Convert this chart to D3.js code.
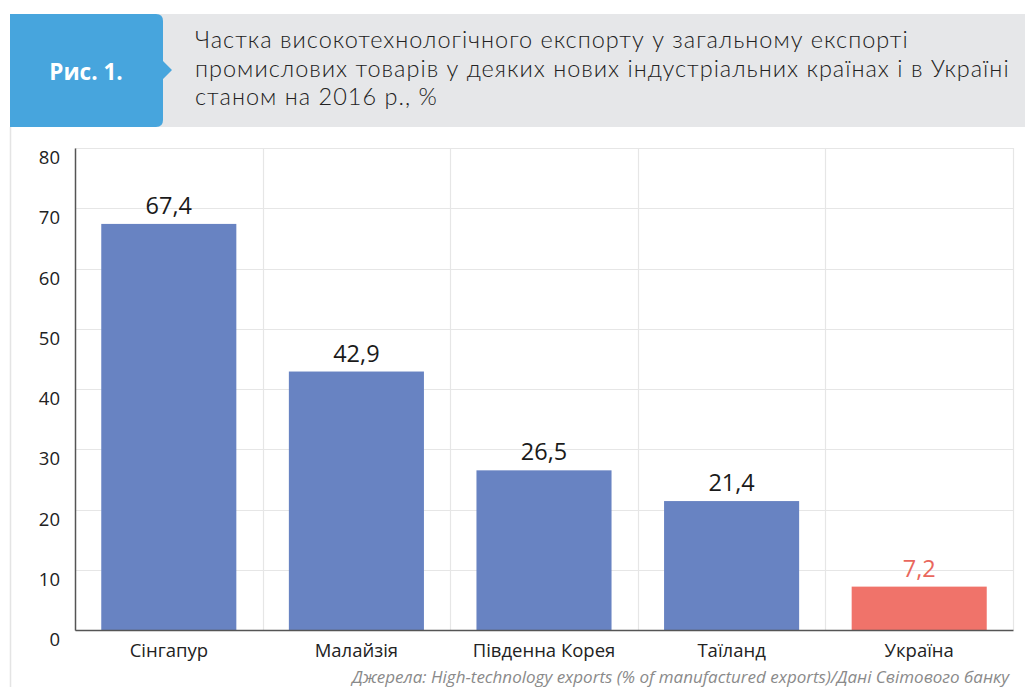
<!DOCTYPE html>
<html>
<head>
<meta charset="utf-8">
<script src="https://cdn.jsdelivr.net/npm/d3@7"></script>
<style>
  html, body { margin: 0; padding: 0; background: #fff; }
  svg { display: block; font-family: "Open Sans", "Noto Sans", sans-serif; }
</style>
</head>
<body>
<svg id="chart" width="1025" height="687"></svg>
<script>
// Chart data
const categories = ["Сінгапур", "Малайзія", "Південна Корея", "Таїланд", "Україна"];
const values = [67.4, 42.9, 26.5, 21.4, 7.2];
const valueLabels = ["67,4", "42,9", "26,5", "21,4", "7,2"];
const highlight = ["Україна"];
const yTicks = [0, 10, 20, 30, 40, 50, 60, 70, 80];
const figLabel = "Рис. 1.";
const titleLines = [
  "Частка високотехнологічного експорту у загальному експорті",
  "промислових товарів у деяких нових індустріальних країнах і в Україні",
  "станом на 2016 р., %"
];
const sourceText = "Джерела: High-technology exports (% of manufactured exports)/Дані Світового банку";

const svg = d3.select("#chart");
const W = 1025, H = 687;

// Header band
svg.append("rect").attr("x", 10).attr("y", 14).attr("width", W - 10).attr("height", 113)
  .attr("fill", "#e6e7e9");

// Blue figure tag with rounded right corners and a pointer
const tag = d3.path();
const tx0 = 10, tx1 = 163, ty0 = 14, ty1 = 127, r = 7, tipX = 172, tipY = 70;
tag.moveTo(tx0, ty0);
tag.lineTo(tx1 - r, ty0);
tag.quadraticCurveTo(tx1, ty0, tx1, ty0 + r);
tag.lineTo(tx1, tipY - 9);
tag.lineTo(tipX, tipY);
tag.lineTo(tx1, tipY + 9);
tag.lineTo(tx1, ty1 - r);
tag.quadraticCurveTo(tx1, ty1, tx1 - r, ty1);
tag.lineTo(tx0, ty1);
tag.closePath();
svg.append("path").attr("d", tag.toString()).attr("fill", "#47a5dd");

svg.append("text").attr("x", 86).attr("y", 80).attr("text-anchor", "middle")
  .attr("fill", "#fff").attr("font-weight", 700).attr("font-size", 22.5)
  .text(figLabel);

svg.append("g").selectAll("text").data(titleLines).join("text")
  .attr("x", 195).attr("y", (d, i) => 48 + i * 28.5)
  .attr("fill", "#222").attr("font-size", 23.5).attr("font-weight", 300)
  .attr("font-family", "Lato, \"Open Sans\", sans-serif")
  .attr("letter-spacing", 1.0)
  .text(d => d);

// Frame line on the left of the chart panel
svg.append("line").attr("x1", 10.5).attr("x2", 10.5).attr("y1", 127).attr("y2", H)
  .attr("stroke", "#e4e4e4").attr("stroke-width", 1.5);

// Plot area
const m = { left: 75, right: 1013, top: 148, bottom: 630 };
const x = d3.scaleBand().domain(categories).range([m.left, m.right]).paddingInner(0.28).paddingOuter(0.14);
const y = d3.scaleLinear().domain([0, 80]).range([m.bottom, m.top]);

// Horizontal gridlines
svg.append("g").selectAll("line").data(yTicks).join("line")
  .attr("x1", m.left).attr("x2", m.right)
  .attr("y1", d => Math.round(y(d)) + 0.5).attr("y2", d => Math.round(y(d)) + 0.5)
  .attr("stroke", "#e6e6e6").attr("stroke-width", 1.2);

// Vertical separators between categories
const bounds = d3.range(1, categories.length + 1).map(i => m.left + (m.right - m.left) * i / categories.length);
svg.append("g").selectAll("line").data(bounds).join("line")
  .attr("x1", d => Math.round(d) + 0.5).attr("x2", d => Math.round(d) + 0.5)
  .attr("y1", m.top).attr("y2", m.bottom)
  .attr("stroke", "#e6e6e6").attr("stroke-width", 1.2);

// Bars
svg.append("g").selectAll("rect").data(categories).join("rect")
  .attr("x", d => x(d)).attr("width", x.bandwidth())
  .attr("y", (d, i) => y(values[i])).attr("height", (d, i) => y(0) - y(values[i]))
  .attr("fill", d => highlight.includes(d) ? "#f0736a" : "#6883c2");

// Value labels
svg.append("g").selectAll("text").data(categories).join("text")
  .attr("x", d => x(d) + x.bandwidth() / 2)
  .attr("y", (d, i) => y(values[i]) - 10)
  .attr("text-anchor", "middle").attr("font-size", 23.5)
  .attr("fill", d => highlight.includes(d) ? "#e9675d" : "#1a1a1a")
  .text((d, i) => valueLabels[i]);

// Y axis
const yAxis = svg.append("g").attr("transform", `translate(${m.left},0)`)
  .call(d3.axisLeft(y).tickValues(yTicks).tickSize(0).tickPadding(15).tickFormat(d3.format("d")));
yAxis.select(".domain").attr("stroke", "#555").attr("stroke-width", 1.5);
yAxis.selectAll("text").attr("font-size", 18.5).attr("fill", "#222")
  .attr("font-family", "\"Open Sans\", sans-serif").attr("dy", "0.85em");

// X axis
const xAxis = svg.append("g").attr("transform", `translate(0,${m.bottom})`)
  .call(d3.axisBottom(x).tickSize(0).tickPadding(14));
xAxis.select(".domain").attr("stroke", "#555").attr("stroke-width", 1.5);
xAxis.selectAll("text").attr("font-size", 18.5).attr("fill", "#222")
  .attr("font-family", "\"Open Sans\", sans-serif");

// Source note
svg.append("text").attr("x", 352).attr("y", 683)
  .attr("font-style", "italic").attr("font-size", 17).attr("fill", "#8a8a8a")
  .text(sourceText);
</script>
</body>
</html>
